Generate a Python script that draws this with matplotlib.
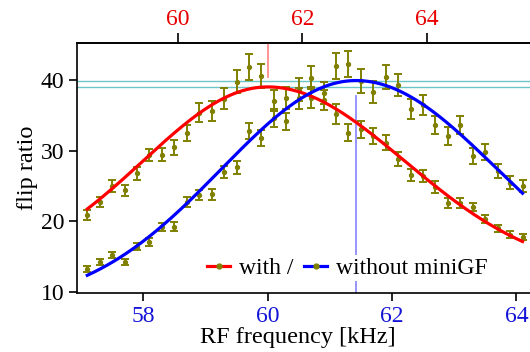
import numpy as np
import matplotlib
matplotlib.use("Agg")
import matplotlib.pyplot as plt
from matplotlib.lines import Line2D

# ---------------- data ----------------
freq = [57.1, 57.3, 57.5, 57.7, 57.9, 58.1, 58.3, 58.5, 58.7, 58.9,
        59.1, 59.3, 59.5, 59.7, 59.9, 60.1, 60.3, 60.5, 60.7, 60.9,
        61.1, 61.3, 61.5, 61.7, 61.9, 62.1, 62.3, 62.5, 62.7, 62.9,
        63.1, 63.3, 63.5, 63.7, 63.9, 64.1]

with_vals = [20.85, 22.75, 25.0, 24.4, 26.8, 29.4, 29.45, 30.45, 32.5, 35.35,
             35.6, 37.35, 39.75, 41.8, 40.55, 37.07, 37.45, 38.6, 37.5, 37.16,
             35.18, 32.55, 33.0, 32.05, 31.1, 28.8, 26.57, 26.4, 24.85, 22.6,
             22.6, 22.05, 20.4, 19.04, 18.15, 17.8]
with_err = [0.7, 0.75, 0.85, 0.8, 0.9, 0.85, 0.9, 1.0, 1.15, 1.35,
            1.35, 1.5, 1.65, 1.85, 1.75, 1.45, 1.5, 1.6, 1.5, 1.45,
            1.35, 1.15, 1.2, 1.1, 1.05, 0.95, 0.85, 0.85, 0.8, 0.7,
            0.7, 0.6, 0.55, 0.5, 0.47, 0.47]

without_vals = [13.27, 14.3, 15.28, 14.3, 16.45, 17.1, 19.25, 19.27, 22.8, 23.75,
                23.85, 27.0, 27.65, 32.8, 31.75, 34.6, 34.15, 37.4, 40.3, 38.1,
                41.96, 42.25, 39.85, 38.25, 40.45, 39.28, 35.9, 36.4, 33.6, 32.1,
                33.6, 29.2, 29.8, 27.18, 25.5, 25.0]
without_err = [0.4, 0.45, 0.45, 0.45, 0.5, 0.55, 0.6, 0.6, 0.7, 0.75,
               0.75, 0.85, 0.9, 1.15, 1.1, 1.25, 1.2, 1.45, 1.65, 1.55,
               1.8, 1.85, 1.65, 1.55, 1.7, 1.6, 1.4, 1.4, 1.27, 1.25,
               1.27, 1.15, 1.1, 1.0, 0.94, 0.82]

# fit parameters (split gaussian): baseline, amplitude, centre, sigma_left, sigma_right
fit_with = dict(B=12.5, A=26.5, f0=60.0, sl=2.0, sr=2.2)
fit_without = dict(B=8.0, A=31.9, f0=61.42, sl=2.17, sr=2.28)

top_shift = 1.44  # top (red) frequency scale = bottom + shift
bottom_ticks = [58, 60, 62, 64]
top_ticks = [60, 62, 64]
y_ticks = [10, 20, 30, 40]

labels = ["with /", "without miniGF"]

# ---------------- styling ----------------
plt.rcParams['font.family'] = ['Liberation Serif', 'DejaVu Serif']
plt.rcParams['mathtext.fontset'] = 'stix'

OLIVE = '#808000'
RED = '#ff0000'
BLUE = '#0000ff'
TEAL = '#6cc4c4'

W, H = 530, 352
fig = plt.figure(figsize=(W / 100, H / 100), dpi=100)
left_px, right_px, top_px, bot_px = 76.7, 530, 43, 293
ax = fig.add_axes([left_px / W, 1 - bot_px / H, (right_px - left_px) / W, (bot_px - top_px) / H])

ax.set_xlim(56.93, 64.22)
ax.set_ylim(9.9, 45.2)


def split_gauss(f, p):
    f = np.asarray(f)
    s = np.where(f < p['f0'], p['sl'], p['sr'])
    return p['B'] + p['A'] * np.exp(-(f - p['f0']) ** 2 / (2 * s ** 2))


# reference lines
for p in (fit_with, fit_without):
    ax.axhline(p['B'] + p['A'], color=TEAL, lw=1.0, zorder=1)
ax.plot([fit_with['f0'], fit_with['f0']], [40.45, 45.2], color='#ff8c8c', lw=1.3, zorder=1)
ax.plot([fit_without['f0'], fit_without['f0']], [9.9, 37.7], color='#8c8cff', lw=1.3, zorder=1)

# data points
for vals, errs in ((with_vals, with_err), (without_vals, without_err)):
    ax.errorbar(freq, vals, yerr=errs, fmt='o', color=OLIVE, ms=2.8,
                elinewidth=1.4, capsize=3.2, capthick=1.4, zorder=2)

# fits
fx = np.linspace(freq[0], freq[-1], 400)
ax.plot(fx, split_gauss(fx, fit_with), color=RED, lw=2.3, zorder=3)
ax.plot(fx, split_gauss(fx, fit_without), color=BLUE, lw=2.3, zorder=3)

# axes styling
for sp in ('left', 'bottom', 'top'):
    ax.spines[sp].set_linewidth(1.2)
ax.spines['right'].set_visible(False)

ax.set_xticks(bottom_ticks)
ax.set_yticks(y_ticks)
ax.tick_params(axis='both', direction='out', length=6, width=1.2, labelsize=17, pad=3)
ax.tick_params(axis='x', colors='black', labelcolor='#1414d8')
ax.tick_params(axis='y', colors='black', labelcolor='black')
ax.tick_params(top=False, right=False)

sec = ax.secondary_xaxis('top', functions=(lambda x: x + top_shift, lambda x: x - top_shift))
sec.set_xticks(top_ticks)
sec.tick_params(direction='out', length=7, width=1.2, labelsize=17, labelcolor='#e80000', pad=2)
sec.spines['top'].set_linewidth(1.2)

ax.set_xlabel("RF frequency [kHz]", fontsize=17.5, labelpad=-1)
ax.set_ylabel("flip ratio", fontsize=17.5, labelpad=2)
ax.xaxis.set_label_coords(0.487, -0.135)

handles = [Line2D([], [], color=RED, lw=2.3, marker='o', ms=3.5, mfc=OLIVE, mec=OLIVE),
           Line2D([], [], color=BLUE, lw=2.3, marker='o', ms=3.5, mfc=OLIVE, mec=OLIVE)]
leg = ax.legend(handles, labels, ncol=2, loc='center left',
                bbox_to_anchor=((205 - left_px) / (right_px - left_px), (bot_px - 268) / (bot_px - top_px)),
                fontsize=17, handlelength=0.95, handletextpad=0.4, columnspacing=0.45,
                borderpad=0.1, borderaxespad=0, frameon=True, fancybox=False)
leg.get_frame().set_edgecolor('none')
leg.get_frame().set_facecolor('white')
leg.get_frame().set_alpha(1)

fig.savefig("out.png", dpi=100)
